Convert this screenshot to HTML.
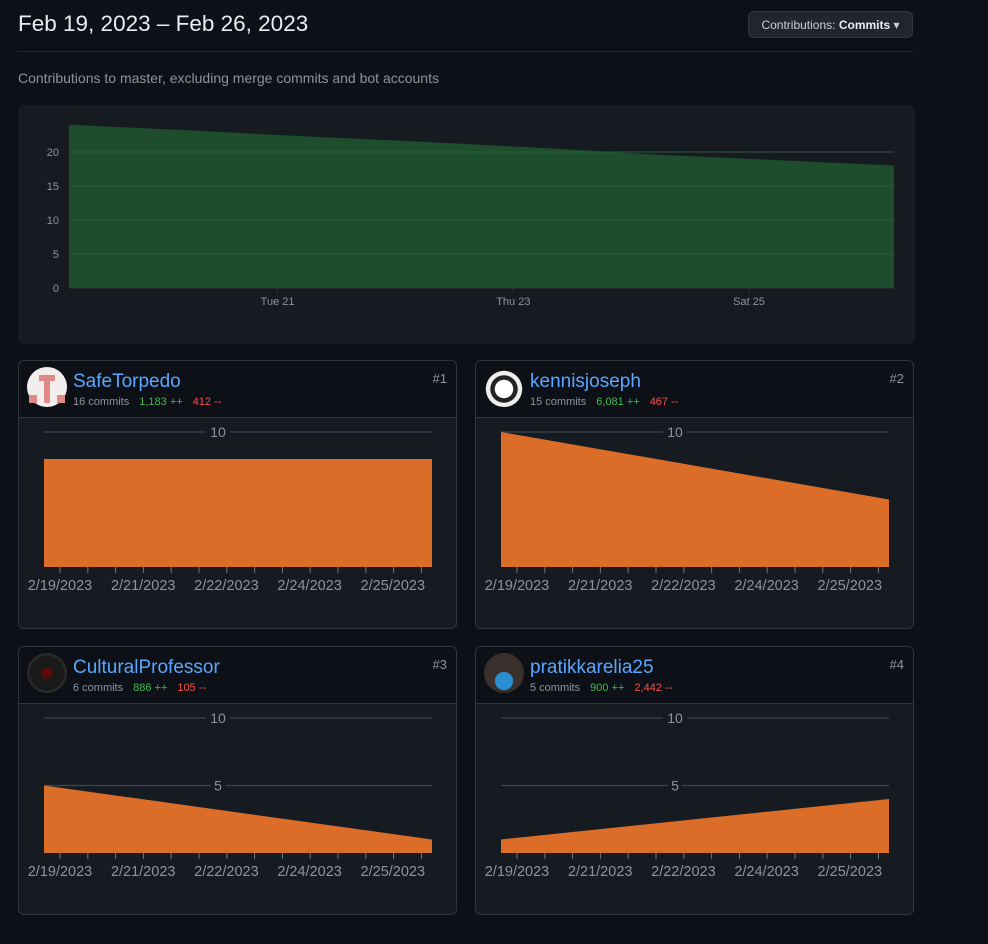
<!DOCTYPE html>
<html><head><meta charset="utf-8"><style>
body{margin:0;width:988px;height:944px;background:#0d1117;font-family:"Liberation Sans",sans-serif;position:relative;overflow:hidden}
.abs{position:absolute}
.title{left:18px;top:11px;font-size:22.5px;color:#e6edf3}
.hr{left:18px;top:51px;width:896px;height:1px;background:#21262d}
.sub{left:18px;top:70px;font-size:14px;color:#8b949e}
.btn{left:748px;top:11px;width:165px;height:27px;border:1px solid #30363d;border-radius:6px;background:#21262d;color:#c9d1d9;font-size:12px;line-height:27px;text-align:center;box-sizing:border-box}
.main{left:18px;top:105px;width:897px;height:239px;background:#161b22;border-radius:6px}
.card{width:439px;height:269px;border:1px solid #30363d;border-radius:6px;background:#161b22;box-sizing:border-box;overflow:hidden}
.head{height:56px;background:#0d1117;border-bottom:1px solid #30363d;position:relative}
.av{position:absolute;left:8px;top:6px;width:40px;height:40px;border-radius:50%}
.nm{position:absolute;left:54px;top:10px;font-size:19px;color:#58a6ff}
.st{position:absolute;left:54px;top:35px;font-size:11px;color:#8b949e;white-space:nowrap}
.st .g{color:#3fb950;margin-left:10px}.st .r{color:#f85149;margin-left:10px}
.rk{position:absolute;right:9px;top:10px;font-size:13px;color:#8b949e}
</style></head><body>
<div class="abs title">Feb 19, 2023 – Feb 26, 2023</div>
<div class="abs btn">Contributions: <b style="color:#e6edf3">Commits</b> ▾</div>
<div class="abs hr"></div>
<div class="abs sub">Contributions to master, excluding merge commits and bot accounts</div>
<div class="abs main">
<svg id="mainsvg" width="897" height="239"></svg>
</div>

<div class="abs card" style="left:18px;top:360px">
<div class="head"><div class="av" style="background:#f3eeee"><div style="position:absolute;left:12px;top:8px;width:16px;height:6px;background:#e08a88"></div><div style="position:absolute;left:17px;top:8px;width:6px;height:28px;background:#e08a88"></div><div style="position:absolute;left:2px;top:28px;width:8px;height:8px;background:#e08a88"></div><div style="position:absolute;left:30px;top:28px;width:8px;height:8px;background:#e08a88"></div></div>
<div class="nm">SafeTorpedo</div>
<div class="st">16 commits<span class="g">1,183 ++</span><span class="r">412 --</span></div><div class="rk">#1</div></div>
<svg class="mini" width="439" height="213"></svg></div>

<div class="abs card" style="left:475px;top:360px">
<div class="head"><div class="av" style="background:radial-gradient(circle at 50% 55%,#fff 0 30%,#222 32% 45%,#eee 47% 60%,#111 62%)"></div>
<div class="nm">kennisjoseph</div>
<div class="st">15 commits<span class="g">6,081 ++</span><span class="r">467 --</span></div><div class="rk">#2</div></div>
<svg class="mini" width="439" height="213"></svg></div>

<div class="abs card" style="left:18px;top:646px">
<div class="head"><div class="av" style="background:radial-gradient(circle,#5a0c0c 0 18%,#1a1a1a 22% 60%,#2a2a2a 64%)"></div>
<div class="nm">CulturalProfessor</div>
<div class="st">6 commits<span class="g">886 ++</span><span class="r">105 --</span></div><div class="rk">#3</div></div>
<svg class="mini" width="439" height="213"></svg></div>

<div class="abs card" style="left:475px;top:646px">
<div class="head"><div class="av" style="background:radial-gradient(circle at 50% 70%,#2a8fd0 0 25%,#3a2f2a 28%)"></div>
<div class="nm">pratikkarelia25</div>
<div class="st">5 commits<span class="g">900 ++</span><span class="r">2,442 --</span></div><div class="rk">#4</div></div>
<svg class="mini" width="439" height="213"></svg></div>

<script>
const NS="http://www.w3.org/2000/svg";
const mainDays=[0,1,2,3,4,5,6,7];
const mainValues=[24,23.2,22.3,21.5,20.6,19.6,18.8,18];
const mainYTicks=[0,5,10,15,20];
const mainXLabels=["Tue 21","Thu 23","Sat 25"];
const mainXLabelDays=[1.77,3.77,5.77];
const miniDates=["2/19/2023","2/21/2023","2/22/2023","2/24/2023","2/25/2023"];
const miniStart=[8,10,5,1];
const miniEnd=[8,5,1,4];
const miniYTicks=[[10],[10],[5,10],[5,10]];

function mk(t,a,p){const e=document.createElementNS(NS,t);for(const k in a)e.setAttribute(k,a[k]);p.appendChild(e);return e;}

(function(){
 const s=document.getElementById('mainsvg');
 const x0=51,x1=876,yb=183,py=6.8;
 const X=d=>x0+(x1-x0)*d/7, Y=v=>yb-v*py;
 let d="M"+X(0)+","+yb;
 mainDays.forEach((dd,i)=>d+=" L"+X(dd)+","+Y(mainValues[i]));
 d+=" L"+X(7)+","+yb+" Z";
 mainYTicks.forEach(v=>{
  const l=mk('line',{x1:x0,x2:x1,y1:Y(v),y2:Y(v),stroke:'#30363d','stroke-width':1},s);
  
  
 });
 const a=mk('path',{d:d,fill:'#1e4d2e'},s);
 
 
 mainYTicks.forEach(v=>{
  if(v>0){const l=mk('line',{x1:x0,x2:x1,y1:Y(v),y2:Y(v),stroke:'#2e6b3e','stroke-width':1,opacity:0.6},s);
  
  }
  const t=mk('text',{x:x0-10,y:Y(v)+4,fill:'#8b949e','font-size':11,'text-anchor':'end'},s);
  t.textContent=v;
  
  
 });
 mainXLabels.forEach((lb,i)=>{
  const x=X(mainXLabelDays[i]);
  mk('line',{x1:x,x2:x,y1:yb,y2:yb+5,stroke:'#30363d'},s);
  const t=mk('text',{x:x,y:yb+17,fill:'#8b949e','font-size':11,'text-anchor':'middle'},s);
  t.textContent=lb;
  
  
 });
})();

document.querySelectorAll('svg.mini').forEach((s,i)=>{
 const x0=25,x1=413,yb=149,py=13.5;
 const Y=v=>yb-v*py;
 miniYTicks[i].forEach(v=>{
  const l=mk('line',{x1:x0,x2:x1,y1:Y(v),y2:Y(v),stroke:'#3d444d','stroke-width':1.2},s);
  
  
 });
 const a=mk('path',{d:`M${x0},${yb} L${x0},${Y(miniStart[i])} L${x1},${Y(miniEnd[i])} L${x1},${yb} Z`,fill:'#db6d28'},s);
 
 
 miniYTicks[i].forEach(v=>{
  const w=v>=10?24:14;
  mk('rect',{x:199-w/2,y:Y(v)-9,width:w,height:17,fill:Y(v)>Y(Math.max(miniStart[i],miniEnd[i]))?'none':'#161b22'},s);
  const t=mk('text',{x:199,y:Y(v)+5,fill:'#8b949e','font-size':14,'text-anchor':'middle'},s);
  t.textContent=v;
  
  
 });
 for(let k=0;k<14;k++){const x=41+k*27.8;mk('line',{x1:x,x2:x,y1:yb,y2:yb+6,stroke:'#6e7681'},s);}
 miniDates.forEach((dt,k)=>{
  const t=mk('text',{x:41+k*83.2,y:yb+23,fill:'#8b949e','font-size':14.5,'text-anchor':'middle'},s);
  t.textContent=dt;
  
  
 });
});
</script>
</body></html>
